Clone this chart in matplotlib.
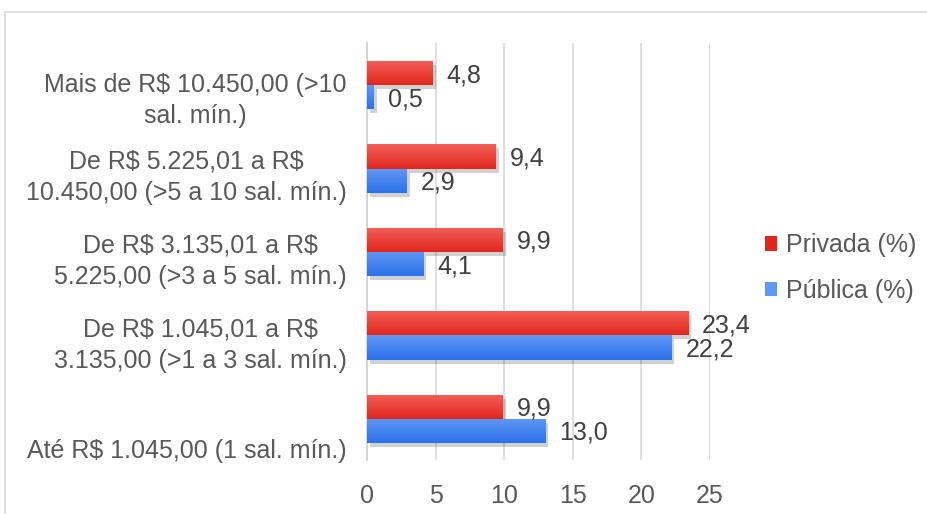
import numpy as np
import matplotlib
matplotlib.use("Agg")
import matplotlib.pyplot as plt
import matplotlib.patheffects as pe
from matplotlib.patches import Patch, Rectangle
from matplotlib.transforms import offset_copy

plt.rcParams["font.family"] = ["Liberation Sans", "DejaVu Sans"]
plt.rcParams["text.parse_math"] = False

# categories from bottom to top
categories = [
    "Até R$ 1.045,00 (1 sal. mín.)",
    "De R$ 1.045,01 a R$\n3.135,00 (>1 a 3 sal. mín.)",
    "De R$ 3.135,01 a R$\n5.225,00 (>3 a 5 sal. mín.)",
    "De R$ 5.225,01 a R$\n10.450,00 (>5 a 10 sal. mín.)",
    "Mais de R$ 10.450,00 (>10\nsal. mín.)",
]
privada = [9.9, 23.4, 9.9, 9.4, 4.8]
publica = [13.0, 22.2, 4.1, 2.9, 0.5]
xticks = [0, 5, 10, 15, 20, 25]

TXT = "#595959"
FS = 18
RED_TOP, RED_BOT = "#f2605a", "#e1271d"
BLUE_TOP, BLUE_BOT = "#6198f5", "#2c72ea"


def gradient_bars(ax, bars, top, bottom):
    c1 = np.array(matplotlib.colors.to_rgb(top))
    c2 = np.array(matplotlib.colors.to_rgb(bottom))
    t = np.linspace(0, 1, 64)[:, None]
    img = (c1 * (1 - t) + c2 * t)[:, None, :]
    for b in bars:
        x0, y0 = b.get_x(), b.get_y()
        w, h = b.get_width(), b.get_height()
        im = ax.imshow(img, extent=(x0, x0 + w, y0, y0 + h), aspect="auto",
                       origin="upper", zorder=3, interpolation="bilinear")
        im.set_clip_path(b)


fig = plt.figure(figsize=(9.28, 5.14), dpi=100)
fig.patches.append(Rectangle((5 / 928, -0.1), 1.1, 1 - 12 / 514 + 0.1,
                             transform=fig.transFigure, fill=False,
                             edgecolor="#d9d9d9", linewidth=1.2))
ax = fig.add_axes([367 / 928, 1 - 460 / 514, 343 / 928, 417 / 514])

y = np.arange(len(categories))
h = 0.29
shadow = [pe.SimplePatchShadow(offset=(2, -3), shadow_rgbFace="#000000", alpha=0.18), pe.Normal()]
b_red = ax.barh(y + 0.14, privada, height=h, color=RED_BOT, zorder=3, path_effects=shadow)
b_blue = ax.barh(y - 0.15, publica, height=h, color=BLUE_BOT, zorder=3, path_effects=shadow)
gradient_bars(ax, b_red, RED_TOP, RED_BOT)
gradient_bars(ax, b_blue, BLUE_TOP, BLUE_BOT)

for bars, vals in ((b_red, privada), (b_blue, publica)):
    for b, v in zip(bars, vals):
        tr = offset_copy(ax.transData, fig=fig, x=14, y=-2, units="dots")
        ax.text(v, b.get_y() + b.get_height() / 2, f"{v:.1f}".replace(".", ","),
                transform=tr, ha="left", va="center", fontsize=FS, color="#404040", zorder=4)

ax.set_xlim(0, 25)
ax.set_ylim(-0.5, len(categories) - 0.5)
ax.set_xticks(xticks)
ax.set_xticklabels([str(t) for t in xticks])
ax.tick_params(axis="x", length=0, labelsize=FS, labelcolor=TXT, pad=17)
ax.set_yticks([])
ax.grid(axis="x", color="#d9d9d9", linewidth=1.2, zorder=0)
ax.set_axisbelow(True)
for s in ("top", "right", "bottom"):
    ax.spines[s].set_visible(False)
ax.spines["left"].set_color("#d0d0d0")
ax.spines["left"].set_linewidth(1.2)

# category labels, offset downwards like the original
label_dy = [-33, -10, -10, -9, -16]
for yi, lab, dy in zip(y, categories, label_dy):
    tr = offset_copy(ax.get_yaxis_transform(), fig=fig, x=-20, y=dy, units="dots")
    ax.text(0, yi, lab, transform=tr, ha="right", va="center", multialignment="center",
            fontsize=FS, color=TXT, linespacing=1.4)

handles = [Patch(facecolor=RED_BOT, edgecolor="none"), Patch(facecolor=BLUE_TOP, edgecolor="none")]
fig.legend(handles, ["Privada (%)", "Pública (%)"], loc="center left",
           bbox_to_anchor=(765 / 928, 1 - 268 / 514), frameon=False,
           borderpad=0, borderaxespad=0,
           fontsize=FS, labelcolor=TXT, handlelength=0.5, handleheight=0.5,
           handletextpad=0.35, labelspacing=0.85)

fig.savefig("out.png", dpi=100)
